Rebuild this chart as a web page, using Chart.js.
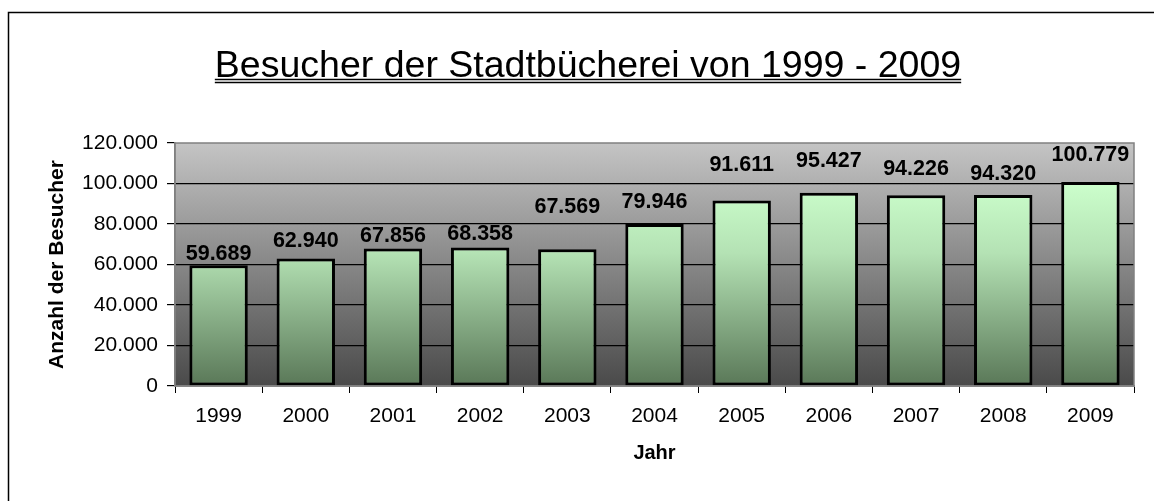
<!DOCTYPE html>
<html>
<head>
<meta charset="utf-8">
<script src="https://cdn.jsdelivr.net/npm/chart.js@4"></script>
<style>
  html, body { margin: 0; padding: 0; background: #fff; }
  canvas { display: block; }
</style>
</head>
<body>
<canvas id="visitorChart" width="1154" height="501"></canvas>
<script>
const years = ['1999', '2000', '2001', '2002', '2003', '2004', '2005', '2006', '2007', '2008', '2009'];
const visitors = [59689, 62940, 67856, 68358, 67569, 79946, 91611, 95427, 94226, 94320, 100779];
const yTicks = [0, 20000, 40000, 60000, 80000, 100000, 120000];

// labels in the original were dragged by hand, so each sits a bit differently above its bar
const labelLift = [5, 12, 7, 8, 36, 16, 29, 26, 20, 15, 21];

const titleText = 'Besucher der Stadtbücherei von 1999 - 2009';
const FONT = 'Arial, "Liberation Sans", sans-serif';

const fmt = v => String(v).replace(/\B(?=(\d{3})+(?!\d))/g, '.');

const decorPlugin = {
  id: 'decor',
  beforeDraw(chart) {
    const { ctx, chartArea: a } = chart;
    ctx.save();
    // outer frame (runs off the right / bottom edge like the source)
    ctx.strokeStyle = '#000';
    ctx.lineWidth = 1.5;
    ctx.strokeRect(8.5, 12.5, 1200, 600);

    // title with double underline
    ctx.font = '37.5px ' + FONT;
    ctx.fillStyle = '#000';
    ctx.textAlign = 'center';
    ctx.textBaseline = 'alphabetic';
    const cx = 588;
    ctx.fillText(titleText, cx, 77);
    const w = ctx.measureText(titleText).width;
    ctx.lineWidth = 1.5;
    ctx.beginPath();
    ctx.moveTo(cx - w / 2, 79.5); ctx.lineTo(cx + w / 2, 79.5);
    ctx.moveTo(cx - w / 2, 82.5); ctx.lineTo(cx + w / 2, 82.5);
    ctx.stroke();

    // plot area gradient
    const g = ctx.createLinearGradient(0, a.top, 0, a.bottom);
    g.addColorStop(0, '#c4c4c4');
    g.addColorStop(1, '#4a4a4a');
    ctx.fillStyle = g;
    ctx.fillRect(a.left, a.top, a.right - a.left, a.bottom - a.top);
    ctx.restore();
  },
  beforeDatasetsDraw(chart) {
    const { ctx } = chart;
    chart.getDatasetMeta(0).data.forEach(bar => {
      const g = ctx.createLinearGradient(0, bar.y, 0, bar.base);
      g.addColorStop(0, '#ccffcc');
      g.addColorStop(0.35, '#b4e2b4');
      g.addColorStop(1, '#5a7858');
      bar.options.backgroundColor = g;
    });
  },
  afterDatasetsDraw(chart) {
    const { ctx, chartArea: a } = chart;
    ctx.save();
    ctx.font = 'bold 21.5px ' + FONT;
    ctx.fillStyle = '#000';
    ctx.textAlign = 'center';
    ctx.textBaseline = 'alphabetic';
    chart.getDatasetMeta(0).data.forEach((bar, i) => {
      ctx.fillText(fmt(visitors[i]), bar.x, bar.y - labelLift[i]);
    });
    // plot border
    ctx.strokeStyle = '#808080';
    ctx.lineWidth = 1.5;
    ctx.strokeRect(a.left, a.top, a.right - a.left, a.bottom - a.top);
    ctx.restore();
  }
};

new Chart(document.getElementById('visitorChart'), {
  type: 'bar',
  data: {
    labels: years,
    datasets: [{
      label: 'Besucher',
      data: visitors,
      backgroundColor: '#b0e0b0',
      borderColor: '#000',
      borderWidth: 3,
      borderSkipped: false,
      categoryPercentage: 1,
      barPercentage: 0.67
    }]
  },
  options: {
    responsive: false,
    devicePixelRatio: 1,
    animation: false,
    layout: { padding: { top: 143, right: 20, left: 0, bottom: 0 } },
    plugins: {
      legend: { display: false },
      tooltip: { enabled: false }
    },
    scales: {
      y: {
        min: 0,
        max: 120000,
        afterBuildTicks: s => { s.ticks = yTicks.map(v => ({ value: v })); },
        afterFit: s => { s.width = 175; },
        ticks: {
          color: '#000',
          font: { family: FONT, size: 21 },
          padding: 9,
          callback: v => fmt(v)
        },
        grid: {
          color: c => (c.tick && c.tick.value === 120000) ? 'rgba(0,0,0,0)' : '#000',
          lineWidth: 1.2,
          tickLength: 8,
          tickColor: '#000'
        },
        border: { display: true, color: '#808080', width: 1.5 },
        title: {
          display: true,
          text: 'Anzahl der Besucher',
          color: '#000',
          font: { family: FONT, size: 21, weight: 'bold' },
          padding: { top: 45, bottom: 0 }
        }
      },
      x: {
        afterFit: s => { s.height = 115; },
        ticks: {
          color: '#000',
          font: { family: FONT, size: 21 },
          padding: 11,
          maxRotation: 0
        },
        grid: {
          offset: true,
          drawOnChartArea: false,
          tickLength: 7,
          tickColor: '#000'
        },
        border: { display: true, color: '#808080', width: 1.5 },
        title: {
          display: true,
          text: 'Jahr',
          color: '#000',
          font: { family: FONT, size: 20, weight: 'bold' },
          padding: { top: 0, bottom: 36 }
        }
      }
    }
  },
  plugins: [decorPlugin]
});
</script>
</body>
</html>
